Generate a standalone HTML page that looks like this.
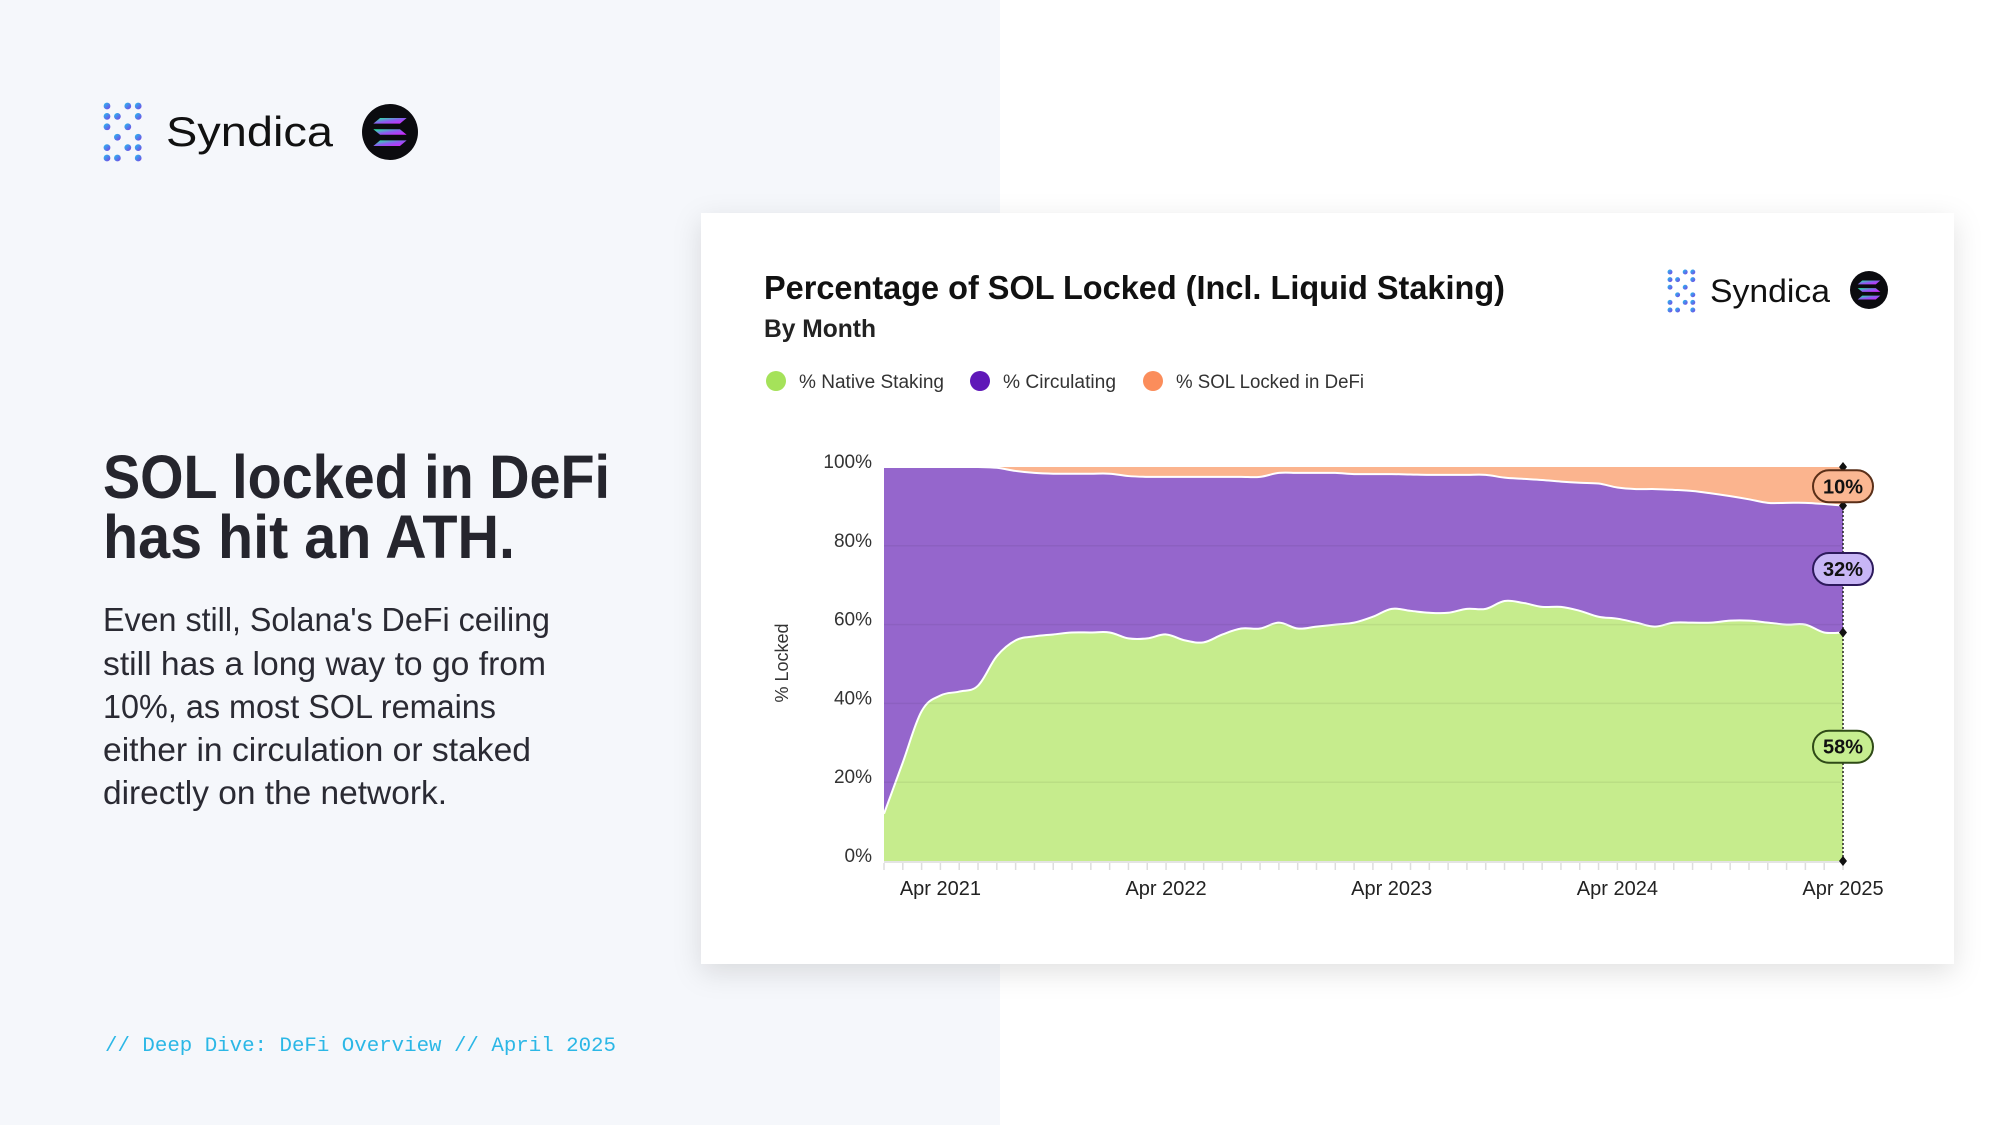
<!DOCTYPE html>
<html><head><meta charset="utf-8"><style>
html,body{margin:0;padding:0;width:2000px;height:1125px;overflow:hidden;background:#fff}
svg{display:block;font-family:"Liberation Sans",Arial,sans-serif}
</style></head><body>
<svg id="page" width="2000" height="1125" viewBox="0 0 2000 1125" xmlns="http://www.w3.org/2000/svg">
<defs>
<linearGradient id="lg" x1="0" y1="0" x2="1" y2="1"><stop offset="0" stop-color="#22c3f0"/><stop offset="1" stop-color="#7b3fe4"/></linearGradient>
<linearGradient id="sg" x1="0" y1="0" x2="1" y2="1"><stop offset="0" stop-color="#19fb9b"/><stop offset="0.5" stop-color="#8a5cf0"/><stop offset="1" stop-color="#dc1fff"/></linearGradient>
<filter id="sh" x="-10%" y="-10%" width="120%" height="125%"><feDropShadow dx="0" dy="8" stdDeviation="14" flood-color="#000" flood-opacity="0.12"/></filter>
</defs>
<rect x="0" y="0" width="1000" height="1125" fill="#f5f7fb"/>
<g id="logo-big"></g>
<text x="103" y="498" font-size="61" font-weight="bold" fill="#25252d" textLength="507" lengthAdjust="spacingAndGlyphs">SOL locked in DeFi</text>
<text x="103" y="558" font-size="61" font-weight="bold" fill="#25252d" textLength="412" lengthAdjust="spacingAndGlyphs">has hit an ATH.</text>
<g font-size="33" fill="#2a2a33">
<text x="103" y="631" textLength="447" lengthAdjust="spacingAndGlyphs">Even still, Solana's DeFi ceiling</text>
<text x="103" y="675" textLength="443" lengthAdjust="spacingAndGlyphs">still has a long way to go from</text>
<text x="103" y="718" textLength="393" lengthAdjust="spacingAndGlyphs">10%, as most SOL remains</text>
<text x="103" y="761" textLength="428" lengthAdjust="spacingAndGlyphs">either in circulation or staked</text>
<text x="103" y="804" textLength="344" lengthAdjust="spacingAndGlyphs">directly on the network.</text>
</g>
<text x="105" y="1051" font-family="Liberation Mono,monospace" font-size="20" fill="#2bb7e6" textLength="511" lengthAdjust="spacingAndGlyphs">// Deep Dive: DeFi Overview // April 2025</text>

<rect x="701" y="213" width="1253" height="751" fill="#fff" filter="url(#sh)"/>
<text x="764" y="299" font-size="33" font-weight="bold" fill="#111" textLength="741" lengthAdjust="spacingAndGlyphs">Percentage of SOL Locked (Incl. Liquid Staking)</text>
<text x="764" y="337" font-size="25" font-weight="bold" fill="#222" textLength="112" lengthAdjust="spacingAndGlyphs">By Month</text>
<g id="logo-small"></g>
<g font-size="19" fill="#333">
<g><circle cx="776" cy="381" r="10" fill="#a5e25a"/><text x="799" y="388" textLength="145" lengthAdjust="spacingAndGlyphs">% Native Staking</text></g>
<g><circle cx="980" cy="381" r="10" fill="#5f18b8"/><text x="1003" y="388" textLength="113" lengthAdjust="spacingAndGlyphs">% Circulating</text></g>
<g><circle cx="1153" cy="381" r="10" fill="#fb8d5b"/><text x="1176" y="388" textLength="188" lengthAdjust="spacingAndGlyphs">% SOL Locked in DeFi</text></g>
</g>
<g id="chart"></g>
</svg>
<script>
const months = [];
const startYear = 2021, startMonth = 0;
const staking = [12,25,38,42,43,44.5,52,56,57,57.5,58,58, 58,56.5,56.5,57.5,56,55.5,57.5,59,59,60.5,59,59.5, 60,60.5,62,64,63.5,63,63,64,64,66,65.5,64.5, 64.5,63.5,62,61.5,60.5,59.5,60.5,60.5,60.5,61,61,60.5, 60,60,58,58];
const defi = [0,0,0,0,0,0,0.2,1,1.5,1.7,1.7,1.7, 1.7,2.3,2.5,2.5,2.5,2.5,2.5,2.5,2.5,1.5,1.5,1.5, 1.5,1.8,1.8,1.8,1.9,2,2,2,2,2.7,3,3.3, 3.7,4,4.2,5.2,5.6,5.6,5.8,6.1,6.7,7.4,8.2,9.1, 9.1,9.1,9.4,9.8];
const yTicks = [0,20,40,60,80,100];
const xTickLabels = ["Apr 2021","Apr 2022","Apr 2023","Apr 2024","Apr 2025"];
const xTickIndex = [3,15,27,39,51];
const endLabels = ["58%","32%","10%"];

const NS="http://www.w3.org/2000/svg";
const X0=884,X1=1843,Y0=861,Y1=467;
const n=staking.length;
const x=i=>X0+i*(X1-X0)/(n-1);
const y=v=>Y0-v*(Y0-Y1)/100;
function mk(tag,attrs,parent){const e=document.createElementNS(NS,tag);for(const k in attrs)e.setAttribute(k,attrs[k]);parent.appendChild(e);return e;}
function smooth(pts){let d=`M${pts[0][0]},${pts[0][1]}`;for(let i=0;i<pts.length-1;i++){const p0=pts[Math.max(0,i-1)],p1=pts[i],p2=pts[i+1],p3=pts[Math.min(pts.length-1,i+2)];const t=0.18;d+=` C${p1[0]+(p2[0]-p0[0])*t},${p1[1]+(p2[1]-p0[1])*t} ${p2[0]-(p3[0]-p1[0])*t},${p2[1]-(p3[1]-p1[1])*t} ${p2[0]},${p2[1]}`;}return d;}
const g=document.getElementById('chart');
const top2=staking.map((s,i)=>100-defi[i]);
const ptsS=staking.map((v,i)=>[x(i),y(v)]);
const ptsC=top2.map((v,i)=>[x(i),y(v)]);
const base=` L${X1},${Y0} L${X0},${Y0} Z`;
let e;
e=mk('path',{d:`M${X0},${y(100)} L${X1},${y(100)}`+base,fill:'#fbb48e'},g);

e=mk('path',{d:smooth(ptsC)+base,fill:'#9566cc'},g);

e=mk('path',{d:smooth(ptsS)+base,fill:'#c6ec8d'},g);

e=mk('path',{d:smooth(ptsC),fill:'none',stroke:'#fff','stroke-width':2},g);

e=mk('path',{d:smooth(ptsS),fill:'none',stroke:'#fff','stroke-width':2},g);

yTicks.forEach(v=>{
  if(v>0&&v<100){e=mk('line',{x1:X0,x2:X1,y1:y(v),y2:y(v),stroke:'rgba(0,0,0,0.06)','stroke-width':1.5},g);
  }
  e=mk('text',{x:872,y:y(v)+1,'text-anchor':'end','font-size':19,fill:'#333'},g);e.textContent=v+'%';
  
});
e=mk('line',{x1:X0,x2:X1,y1:Y0+1,y2:Y0+1,stroke:'#e4e4e4','stroke-width':2},g);

for(let i=0;i<n;i++){e=mk('line',{x1:x(i),x2:x(i),y1:Y0+2,y2:Y0+9,stroke:'#ddd','stroke-width':1.5},g);
}
xTickLabels.forEach((l,k)=>{e=mk('text',{x:x(xTickIndex[k]),y:895,'text-anchor':'middle','font-size':20,fill:'#222'},g);e.textContent=l;
});
e=mk('text',{x:0,y:0,transform:'translate(788,663) rotate(-90)','text-anchor':'middle','font-size':18,fill:'#333'},g);e.textContent='% Locked';

// end markers
const L=n-1;
e=mk('line',{x1:X1,x2:X1,y1:y(100),y2:Y0,stroke:'#222','stroke-width':1.5,'stroke-dasharray':'2 2'},g);

[100,top2[L],staking[L],0].forEach(v=>{e=mk('path',{d:`M${X1},${y(v)-5} l4,5 l-4,5 l-4,-5 Z`,fill:'#111'},g);
});
const vals=[staking[L],top2[L]-staking[L],defi[L]];
const mids=[staking[L]/2,(staking[L]+top2[L])/2,(top2[L]+100)/2];
const fills=['#c6ee90','#c8b6f6','#fbb792'],strokes=['#2f4a17','#2d1a5c','#5a2f18'];
vals.forEach((v,k)=>{const cy=y(mids[k]);
e=mk('rect',{x:X1-30,y:cy-16,width:60,height:32,rx:16,fill:fills[k],stroke:strokes[k],'stroke-width':2},g);

e=mk('text',{x:X1,y:cy+7,'text-anchor':'middle','font-size':20,'font-weight':'bold',fill:'#111'},g);e.textContent=endLabels[k];
});

function logo(gid,ox,oy,s,tx,tb,fs,tl,cx,cy,r){
  const G=document.getElementById(gid);
  const dots=[[0,0],[2,0],[3,0],[0,1],[1,1],[3,1],[0,2],[2,2],[1,3],[3,3],[0,4],[2,4],[3,4],[0,5],[1,5],[3,5]];
  dots.forEach(([c,rw])=>{const d=mk('circle',{cx:ox+c*s*4,cy:oy+rw*s*4,r:s*1.3,fill:'url(#lg)'},G);
  });
  let t=mk('text',{x:tx,y:tb,'font-size':fs,fill:'#111',textLength:tl,lengthAdjust:'spacingAndGlyphs'},G);t.textContent='Syndica';
  
  t=mk('circle',{cx:cx,cy:cy,r:r,fill:'#0b0b0f'},G);
  
  const w=r*0.95,h=r*0.2;
  [-0.38,0,0.38].forEach((o,k)=>{const yy=cy+o*r*1.05-h/2;const sk=(k==1?-1:1)*h*0.6;
    const p=mk('path',{d:`M${cx-w/2+sk},${yy} L${cx+w/2+sk},${yy} L${cx+w/2-sk},${yy+h} L${cx-w/2-sk},${yy+h} Z`,fill:'url(#sg)'},G);
    });
}
logo('logo-big',107,106,2.6,166,146,42,167,390,132,28);
logo('logo-small',1670,272,1.9,1710,302,32,120,1869,290,19);
</script>
</body></html>
